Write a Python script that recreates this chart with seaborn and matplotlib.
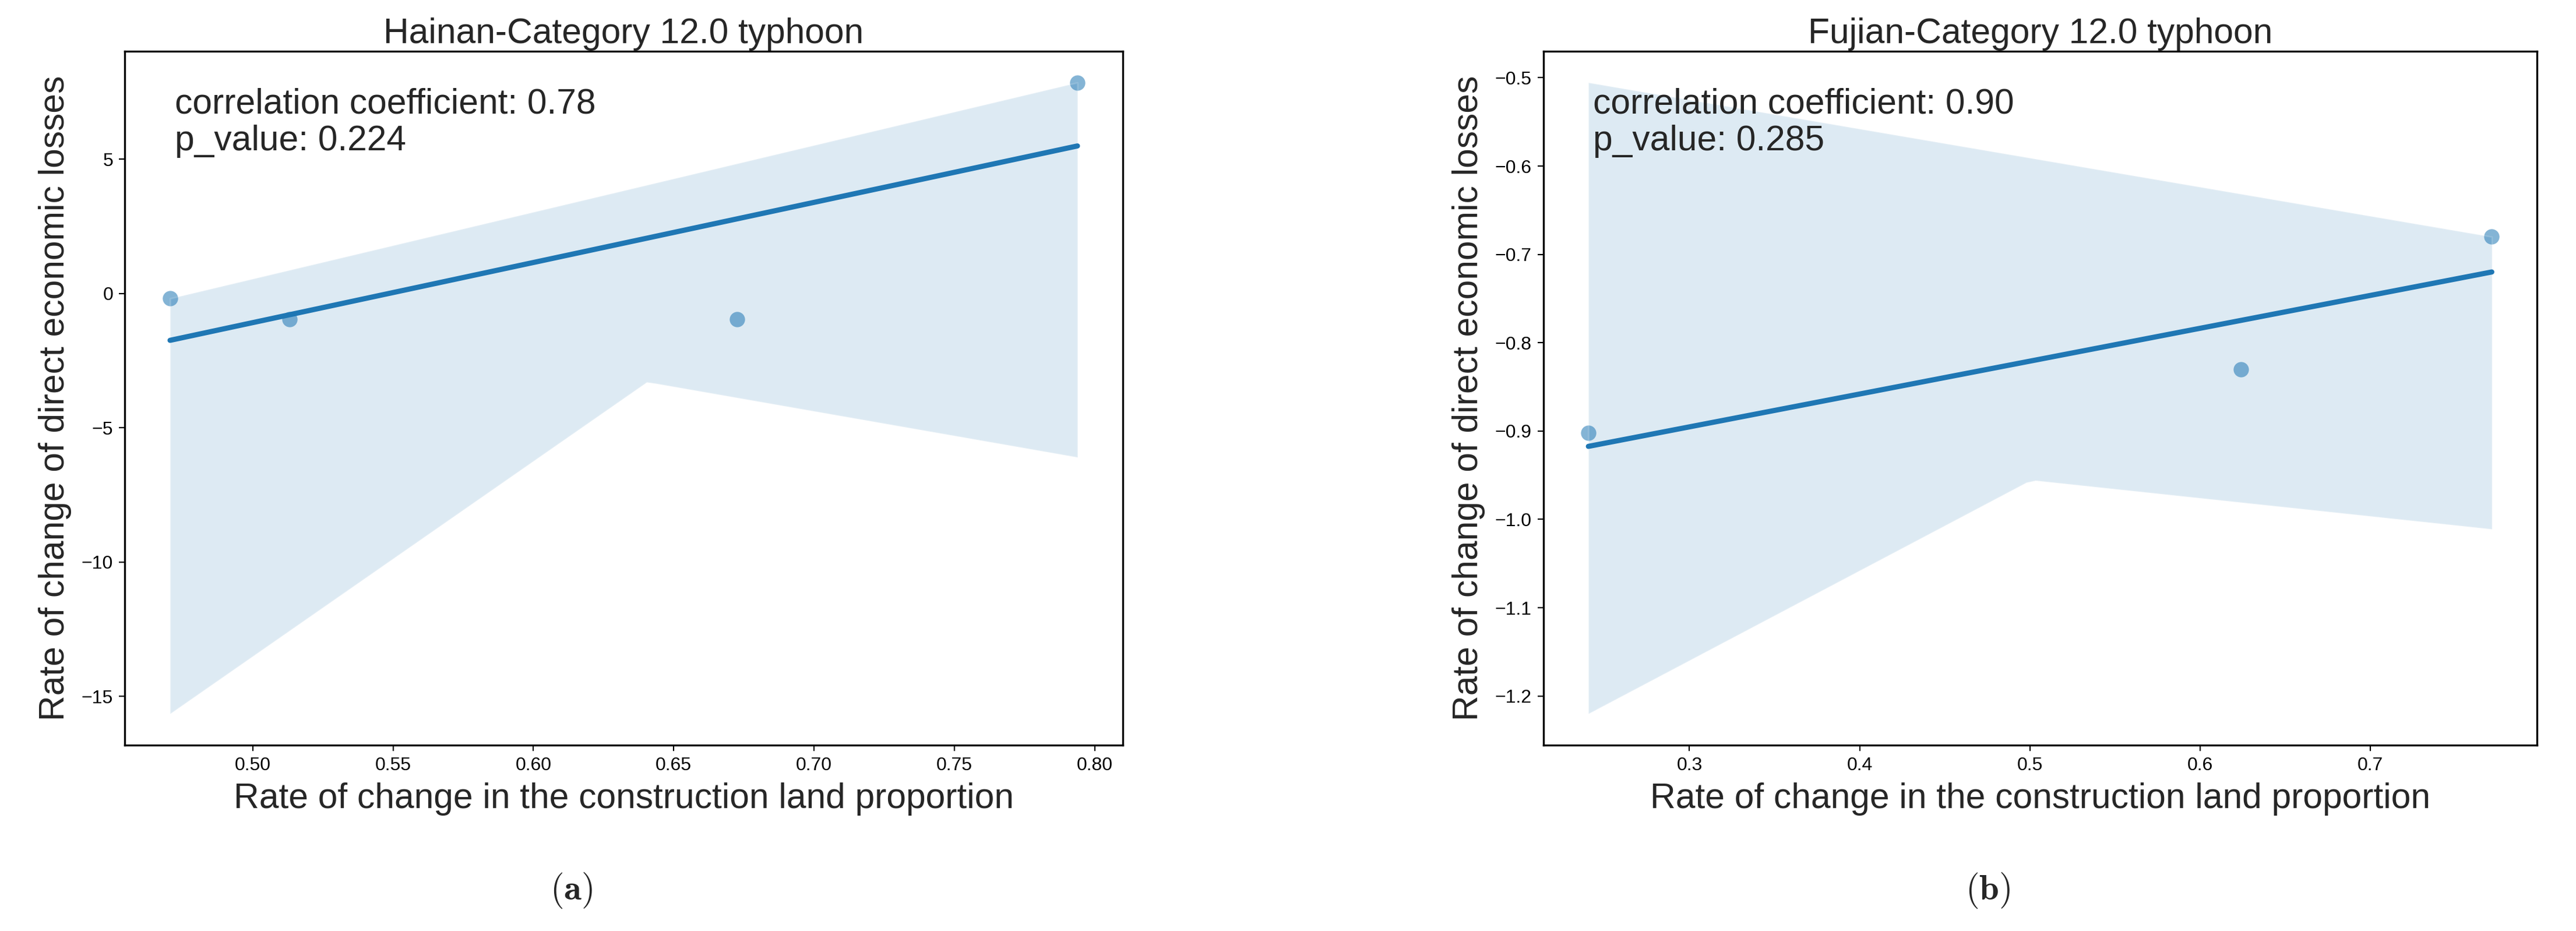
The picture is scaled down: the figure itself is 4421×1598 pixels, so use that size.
import numpy as np
import pandas as pd
import matplotlib
matplotlib.use("Agg")
import matplotlib.pyplot as plt
import seaborn as sns

# ---------------- data ----------------
hainan_x = [0.4705, 0.5132, 0.6725, 0.7939]
hainan_y = [-0.19, -0.97, -0.97, 7.85]
fujian_x = [0.2406, 0.6240, 0.7715]
fujian_y = [-0.902, -0.830, -0.680]

titles = ["Hainan-Category 12.0 typhoon", "Fujian-Category 12.0 typhoon"]
corr_texts = ["correlation coefficient: 0.78", "correlation coefficient: 0.90"]
p_texts = ["p_value: 0.224", "p_value: 0.285"]
sub_labels = [r"$(\mathbf{a})$", r"$(\mathbf{b})$"]
xlabel = "Rate of change in the construction land proportion"
ylabel = "Rate of change of direct economic losses"

# ---------------- style ----------------
sns.set_style("ticks")
plt.rcParams["font.family"] = ["Liberation Sans", "DejaVu Sans"]
plt.rcParams["mathtext.fontset"] = "cm"
plt.rcParams["axes.edgecolor"] = "black"
plt.rcParams["axes.linewidth"] = 1.2
plt.rcParams["xtick.color"] = "black"
plt.rcParams["ytick.color"] = "black"
plt.rcParams["xtick.major.size"] = 3.7
plt.rcParams["ytick.major.size"] = 3.7

W, H = 4421, 1598
DPI = 200
FS = 21.8
fig = plt.figure(figsize=(W / DPI, H / DPI), dpi=DPI)
fig.patch.set_facecolor("white")

ax1 = fig.add_axes([214 / W, 1 - 1279 / H, (1927 - 214) / W, (1279 - 87.5) / H])
ax2 = fig.add_axes([2648.5 / W, 1 - 1279 / H, (4354 - 2648.5) / W, (1279 - 87.5) / H])

datasets = [(hainan_x, hainan_y), (fujian_x, fujian_y)]
label_x = [981 / W, 3412 / W]

for i, (ax, (xs, ys)) in enumerate(zip([ax1, ax2], datasets)):
    df = pd.DataFrame({"x": xs, "y": ys})
    sns.regplot(data=df, x="x", y="y", ax=ax, color="#1f77b4",
                scatter_kws=dict(s=90, alpha=0.55, linewidths=0),
                line_kws=dict(linewidth=3.2), seed=0)
    for s in ax.spines.values():
        s.set_visible(True)
        s.set_color("black")
        s.set_linewidth(1.2)
    ax.set_title(titles[i], fontsize=FS, pad=5)
    ax.set_xlabel(xlabel, fontsize=FS, labelpad=5)
    ax.set_ylabel(ylabel, fontsize=FS, labelpad=6)
    ax.tick_params(labelsize=11.5)
    ax.text(0.05, 0.947, corr_texts[i] + "\n" + p_texts[i], transform=ax.transAxes,
            ha="left", va="top", fontsize=FS, linespacing=1.15)
    fig.text(label_x[i], 1 - 1529 / H, sub_labels[i], ha="center", va="center",
             fontsize=22)

fig.savefig("out.png", dpi=DPI, facecolor="white")
